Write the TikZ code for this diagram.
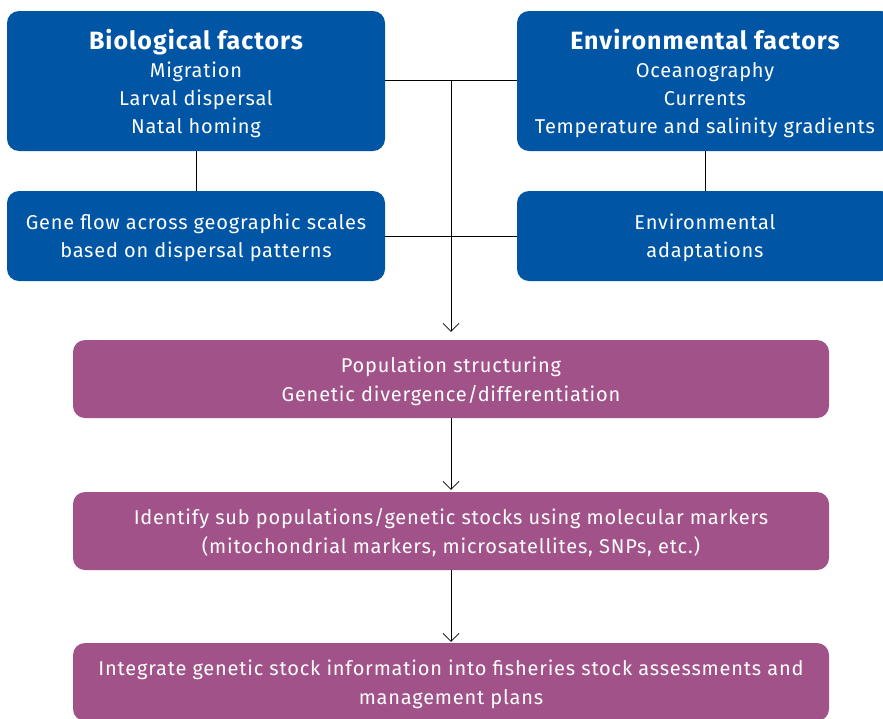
\documentclass[tikz,border=0pt]{standalone}
\usepackage{fontspec}
\setmainfont{Fira Sans}[LetterSpace=4]
\usetikzlibrary{positioning, arrows.meta}
\definecolor{factorblue}{HTML}{0055A5}
\definecolor{stagepurple}{HTML}{A05289}
\newcommand{\boxhead}[1]{{\fontsize{25}{29}\selectfont\bfseries #1}}
\begin{document}
\begin{tikzpicture}[x=1pt, y=-1pt,
    factor/.style={fill=factorblue, text=white, rounded corners=12pt, minimum width=378pt,
        align=center, text depth=0pt, font=\fontsize{20}{28}\selectfont},
    stage/.style={fill=stagepurple, text=white, rounded corners=12pt, minimum width=756pt,
        minimum height=78pt, align=center, text depth=0pt, font=\fontsize{20}{29}\selectfont},
    flow/.style={-{Straight Barb[length=8pt, width=16pt]}, line width=0.7pt}]
    \clip (0,0) rectangle (883,718);
    % two columns of factors
    \node[factor, minimum height=140pt] (bio) at (196,81)
        {\boxhead{Biological factors}\\ Migration\\ Larval dispersal\\ Natal homing};
    \node[factor, minimum width=376pt, minimum height=140pt] (env) at (705,81)
        {\boxhead{Environmental factors}\\ Oceanography\\ Currents\\ Temperature and salinity gradients};
    \node[factor, minimum height=90pt] (geneflow) at (196,236)
        {Gene flow across geographic scales\\ based on dispersal patterns};
    \node[factor, minimum width=376pt, minimum height=90pt] (adapt) at (705,236)
        {Environmental\\ adaptations};
    % stages
    \node[stage] (structure) at (451,379) {Population structuring\\ Genetic divergence/differentiation};
    \node[stage] (identify) at (451,531) {Identify sub populations/genetic stocks using molecular markers\\
        (mitochondrial markers, microsatellites, SNPs, etc.)};
    \node[stage, minimum height=78pt] (integrate) at (451,682) {Integrate genetic stock information into fisheries stock assessments and\\
        management plans};
    % connectors
    \begin{scope}[line width=0.7pt]
    \draw (bio) -- (geneflow);
    \draw (env) -- (adapt);
    \draw (bio.east |- 0,80) -- (env.west |- 0,80);
    \draw (geneflow.east) -- (adapt.west);
    \end{scope}
    \coordinate (hub) at (451,80);
    \draw[flow, shorten >=8pt] (hub) -- (hub |- structure.north);
    \draw[flow, shorten >=2pt] (structure) -- (identify);
    \draw[flow, shorten >=1pt] (identify) -- (integrate);
\end{tikzpicture}
\end{document}
